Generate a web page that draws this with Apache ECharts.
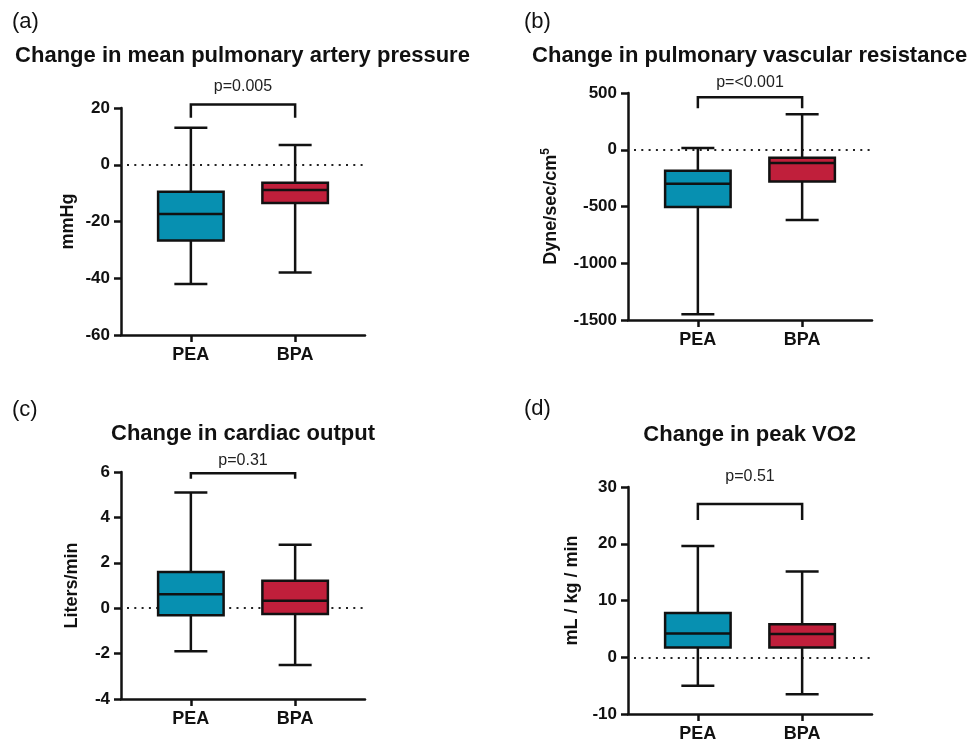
<!DOCTYPE html>
<html>
<head>
<meta charset="utf-8">
<script src="https://cdn.jsdelivr.net/npm/echarts@6/dist/echarts.min.js"></script>
<style>html,body{margin:0;padding:0;background:#fff}#c{width:971px;height:743px}</style>
</head>
<body>
<div id="c"></div>
<script>
// ---------- data ----------
const categories = ['PEA', 'BPA'];
// [min, Q1, median, Q3, max]
const mpapPEA = [-42, -26.7, -17.4, -9.5, 13];
const mpapBPA = [-38, -13.5, -8.9, -6.3, 7];
const pvrPEA = [-1450, -505, -300, -185, 15];
const pvrBPA = [-618, -279, -117, -70, 312];
const coPEA = [-1.9, -0.31, 0.61, 1.6, 5.1];
const coBPA = [-2.5, -0.26, 0.33, 1.21, 2.8];
const vo2PEA = [-5, 1.7, 4.2, 7.8, 19.6];
const vo2BPA = [-6.5, 1.7, 4.1, 5.8, 15.1];
const pValues = ['p=0.005', 'p=<0.001', 'p=0.31', 'p=0.51'];
const titles = ['Change in mean pulmonary artery pressure', 'Change in pulmonary vascular resistance', 'Change in cardiac output', 'Change in peak VO2'];
const panelLabels = ['(a)', '(b)', '(c)', '(d)'];
const yNames = ['mmHg', '{a|Dyne/sec/cm}{s|5}', 'Liters/min', 'mL / kg / min'];
const yMin = [-60, -1500, -4, -10];
const yMax = [20, 500, 6, 30];
const yInterval = [20, 500, 2, 10];
// bracket annotation levels (data units): [top, leg bottom, p-label]
const bracketTop = [21.2, 462, 5.95, 27];
const bracketLeg = [16.6, 365, 5.7, 24.2];
const pLabelY = [27.6, 591, 6.5, 31.9];

const boxes = [[mpapPEA, mpapBPA], [pvrPEA, pvrBPA], [coPEA, coBPA], [vo2PEA, vo2BPA]];

// ---------- style / layout ----------
const FONT = "'Liberation Sans', Arial, Helvetica, sans-serif";
const boxColors = ['#0790b1', '#c01f3b'];
const INK = '#111';
const LW = 2.5;
const BOXW = 65.5;
const CAPHALF = 16.5;
const grids = [
  {left: 121, top: 108, width: 244, height: 227},
  {left: 628, top: 93, width: 244, height: 227},
  {left: 121, top: 472, width: 244, height: 227},
  {left: 628, top: 487, width: 244, height: 227}
];
const nameGaps = [44, 66, 40, 47];
const namePads = [[0,0,0,0],[0,0,0,0],[0,0,0,0],[0,0,0,20]];
const titlePos = [[242.5, 56], [749.7, 56], [243, 434], [749.7, 435]];
const labelPos = [[12, 22], [524, 22], [12, 410], [524, 409]];

function renderBox(params, api) {
  const x = api.value(0);
  const pMin = api.coord([x, api.value(1)]);
  const pQ1 = api.coord([x, api.value(2)]);
  const pMed = api.coord([x, api.value(3)]);
  const pQ3 = api.coord([x, api.value(4)]);
  const pMax = api.coord([x, api.value(5)]);
  const cx = pMed[0];
  const ls = {stroke: INK, lineWidth: LW};
  return {
    type: 'group',
    children: [
      {type: 'line', shape: {x1: cx, y1: pMax[1], x2: cx, y2: pQ3[1]}, style: ls},
      {type: 'line', shape: {x1: cx, y1: pQ1[1], x2: cx, y2: pMin[1]}, style: ls},
      {type: 'line', shape: {x1: cx - CAPHALF, y1: pMax[1], x2: cx + CAPHALF, y2: pMax[1]}, style: ls},
      {type: 'line', shape: {x1: cx - CAPHALF, y1: pMin[1], x2: cx + CAPHALF, y2: pMin[1]}, style: ls},
      {type: 'rect', shape: {x: cx - BOXW / 2, y: pQ3[1], width: BOXW, height: pQ1[1] - pQ3[1]},
        style: {fill: boxColors[params.dataIndex], stroke: INK, lineWidth: LW}},
      {type: 'line', shape: {x1: cx - BOXW / 2, y1: pMed[1], x2: cx + BOXW / 2, y2: pMed[1]}, style: ls}
    ]
  };
}

function renderBracket(params, api) {
  const a = api.coord([api.value(0), api.value(3)]);
  const b = api.coord([api.value(1), api.value(3)]);
  const top = api.coord([api.value(0), api.value(2)])[1];
  const py = api.coord([api.value(0), api.value(4)])[1];
  return {
    type: 'group',
    children: [
      {type: 'polyline', shape: {points: [[a[0], a[1]], [a[0], top], [b[0], top], [b[0], b[1]]]},
        style: {stroke: INK, lineWidth: LW, fill: null}},
      {type: 'text', x: (a[0] + b[0]) / 2, y: py,
        style: {text: pValues[params.seriesIndex >> 1], align: 'center', verticalAlign: 'middle',
          fontSize: 16, fontFamily: FONT, fill: '#222'}}
    ]
  };
}

const xAxes = [], yAxes = [], series = [], graphic = [];
for (let i = 0; i < 4; i++) {
  xAxes.push({
    gridIndex: i, type: 'value', min: -0.67, max: 1.67,
    axisLine: {show: true, onZero: false, lineStyle: {color: INK, width: LW}},
    axisTick: {show: true, length: 7, customValues: [0, 1], lineStyle: {color: INK, width: LW}},
    axisLabel: {customValues: [0, 1], formatter: v => categories[Math.round(v)],
      fontSize: 18, fontWeight: 'bold', color: INK, fontFamily: FONT, margin: 11},
    splitLine: {show: false}
  });
  yAxes.push({
    gridIndex: i, type: 'value', min: yMin[i], max: yMax[i], interval: yInterval[i],
    name: yNames[i], nameLocation: 'middle', nameGap: nameGaps[i],
    nameTextStyle: {fontSize: 18, fontWeight: 'bold', color: INK, fontFamily: FONT, padding: namePads[i],
      rich: {a: {fontSize: 18, fontWeight: 'bold', color: INK, fontFamily: FONT},
             s: {fontSize: 12, fontWeight: 'bold', color: INK, fontFamily: FONT, verticalAlign: 'top', lineHeight: 22}}},
    axisLine: {show: true, onZero: false, lineStyle: {color: INK, width: LW}},
    axisTick: {show: true, length: 7, lineStyle: {color: INK, width: LW}},
    axisLabel: {fontSize: 17, fontWeight: 'bold', color: INK, fontFamily: FONT, margin: 11,
      formatter: v => String(v)},
    splitLine: {show: false}
  });
  series.push({
    type: 'custom', xAxisIndex: i, yAxisIndex: i, z: 3, clip: false,
    renderItem: renderBox,
    encode: {x: 0, y: [1, 2, 3, 4, 5]},
    data: boxes[i].map((b, k) => [k].concat(b)),
    markLine: {
      silent: true, symbol: 'none', z: 1, label: {show: false},
      lineStyle: {color: '#222', width: 2, type: [2, 5.3], dashOffset: -6},
      data: [{yAxis: 0}]
    }
  });
  series.push({
    type: 'custom', xAxisIndex: i, yAxisIndex: i, z: 4, clip: false,
    renderItem: renderBracket,
    encode: {x: [0, 1], y: [2, 3, 4]},
    data: [[0, 1, bracketTop[i], bracketLeg[i], pLabelY[i]]]
  });
  graphic.push({type: 'text', x: titlePos[i][0], y: titlePos[i][1],
    style: {text: titles[i], align: 'center', verticalAlign: 'middle', fontSize: 22, fontWeight: 'bold', fontFamily: FONT, fill: INK}});
  graphic.push({type: 'text', x: labelPos[i][0], y: labelPos[i][1],
    style: {text: panelLabels[i], align: 'left', verticalAlign: 'middle', fontSize: 22, fontFamily: FONT, fill: INK}});
}

const chart = echarts.init(document.getElementById('c'));
chart.setOption({
  animation: false,
  backgroundColor: '#fff',
  grid: grids,
  xAxis: xAxes,
  yAxis: yAxes,
  series: series,
  graphic: graphic
});
</script>
</body>
</html>
